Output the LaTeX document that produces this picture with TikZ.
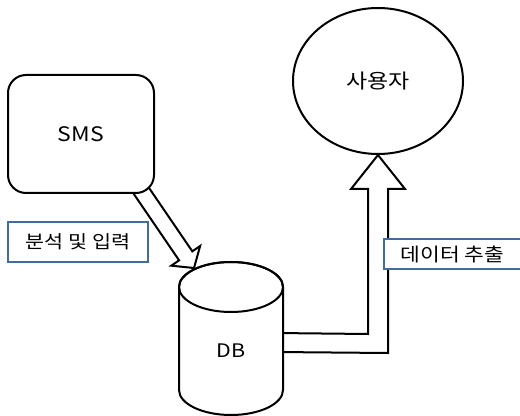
\documentclass[tikz,border=0pt]{standalone}
\usepackage{fontspec}
\setmainfont{Noto Sans CJK KR}[FakeStretch=1.15]
\usetikzlibrary{shapes.geometric,calc,backgrounds}
\definecolor{boxblue}{RGB}{65,108,158}
\tikzset{
  lw/.style={line width=1.5pt, draw=black},
  smsbox/.style={lw, fill=white, rounded corners=13.5pt, minimum width=109.5pt, minimum height=88.5pt, inner sep=0pt, font=\fontsize{15}{18}\selectfont},
  userell/.style={lw, fill=white, ellipse, minimum width=127.5pt, minimum height=109.5pt, inner sep=0pt, font=\fontsize{15}{18}\selectfont},
  dbbody/.style={minimum width=78pt, minimum height=94.5pt, inner sep=0pt, font=\fontsize{14}{16}\selectfont},
  tag/.style={draw=boxblue, line width=1.5pt, fill=white, inner sep=0pt},
  blk/.style={lw, fill=white, line join=miter},
}
\begin{document}
\begin{tikzpicture}[x=0.75pt,y=-0.75pt]
\clip (0,0) rectangle (520,416);
% nodes
\node[smsbox] (sms) at (81,134) {SMS};
\node[userell] (user) at (378,81) {사용자};
\node[dbbody] (db) at (231,351) {DB};
\coordinate (dbtop) at (231,287);
\node[tag, minimum width=105pt, minimum height=30pt, font=\fontsize{13.5}{15}\selectfont] (t1) at (78,242) {분석 및 입력};
\node[tag, minimum width=102.75pt, minimum height=22.5pt, font=\fontsize{14}{16}\selectfont] (t2) at (452.5,254) {데이터 추출};
% connectors
\coordinate (a1) at ($(sms.south east)+(-19,-11)$);
\coordinate (a2) at ($(dbtop)+(-37,-19)$);
\coordinate (hb) at ($(a1)!0.857!(a2)$);
\coordinate (ut) at (user.south);
\begin{scope}[on background layer]
  \draw[blk] ($(a1)!6pt!90:(a2)$) -- ($(hb)!6pt!90:(a2)$) -- ($(hb)!13.1pt!90:(a2)$) -- (a2)
     -- ($(hb)!13.1pt!-90:(a2)$) -- ($(hb)!6pt!-90:(a2)$) -- ($(a1)!6pt!-90:(a2)$) -- cycle;
  \draw[blk] ($(db.east)+(-8,-18)$) -- ($(ut)+(-10,179)$) -- ($(ut)+(-10,34)$) -- ($(ut)+(-27,34)$)
     -- (ut) -- ($(ut)+(27,34)$) -- ($(ut)+(10,34)$) -- ($(ut)+(10,198)$) -- ($(db.east)+(-8,1)$) -- cycle;
  \draw[lw, fill=white] (179,287) -- (179,390) arc[start angle=180, end angle=0, x radius=52, y radius=25]
     -- (283,287) arc[start angle=0, end angle=-180, x radius=52, y radius=25] -- cycle;
  \draw[lw] (dbtop) ellipse [x radius=52, y radius=25];
\end{scope}
\end{tikzpicture}
\end{document}
